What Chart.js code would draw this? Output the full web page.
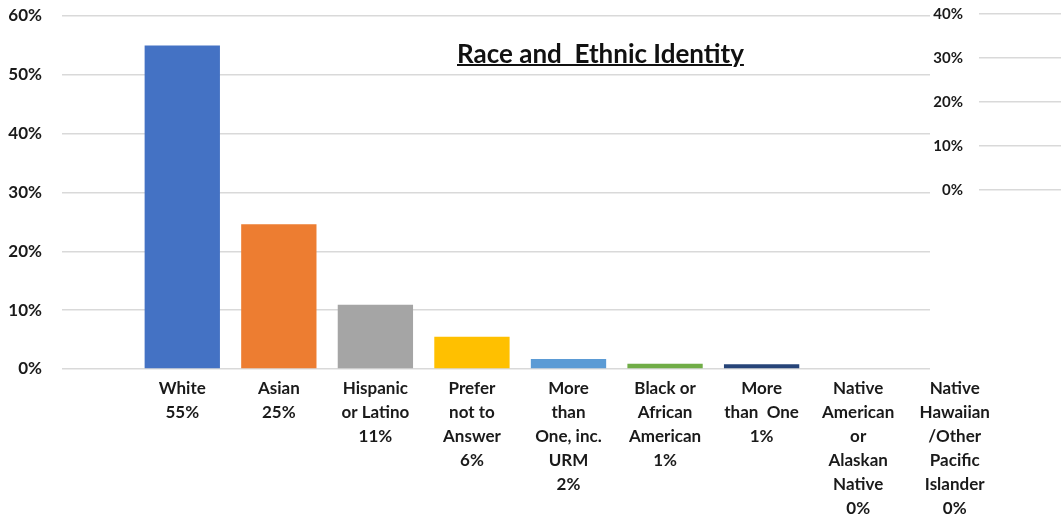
<!DOCTYPE html>
<html>
<head>
<meta charset="utf-8">
<script src="https://cdn.jsdelivr.net/npm/chart.js@4"></script>
<style>
  html, body { margin: 0; padding: 0; background: #fff; }
  #wrap { position: relative; width: 1061px; height: 517px; overflow: hidden; }
  #main { position: absolute; left: 0; top: 0; }
  #side { position: absolute; left: 930px; top: 0; background: #fff; }
  #title {
    position: absolute; left: 457px; top: 37px;
    font: bold 26px Lato, sans-serif; color: #111;
    text-decoration: underline; text-decoration-thickness: 2px;
    white-space: pre;
  }
</style>
</head>
<body>
<div id="wrap">
  <canvas id="main" width="1061" height="517"></canvas>
  <canvas id="side" width="131" height="372"></canvas>
  <div id="title">Race and  Ethnic Identity</div>
</div>
<script>
// share of respondents by race / ethnicity, in percent
const categories = [
  ['White'],
  ['Asian'],
  ['Hispanic', 'or Latino'],
  ['Prefer', 'not to', 'Answer'],
  ['More', 'than', 'One, inc.', 'URM'],
  ['Black or', 'African', 'American'],
  ['More', 'than  One'],
  ['Native', 'American', 'or', 'Alaskan', 'Native'],
  ['Native', 'Hawaiian', '/Other', 'Pacific', 'Islander']
]
const shares = [55, 24.6, 10.9, 5.5, 1.7, 0.9, 0.8, 0, 0]
const barColors = ['#4472c4', '#ed7d31', '#a5a5a5', '#ffc000', '#5b9bd5', '#70ad47', '#264478', '#9e480e', '#636363']
const leftAxisMax = 60
const sideAxisMax = 40
const axisStep = 10

const textColor = '#1a1a1a'
const gridColor = '#d9d9d9'

// category label + rounded share underneath
var xLabels = []
for (var i = 0; i < categories.length; i++) {
  xLabels.push(categories[i].concat(Math.round(shares[i]) + '%'))
}

new Chart(document.getElementById('main'), {
  type: 'bar',
  data: {
    labels: xLabels,
    datasets: [{
      data: shares,
      backgroundColor: barColors,
      borderWidth: 0,
      categoryPercentage: 1,
      barPercentage: 0.78
    }]
  },
  options: {
    responsive: false,
    animation: false,
    layout: { padding: { top: 16, right: 58, bottom: 0, left: 0 } },
    plugins: { legend: { display: false }, tooltip: { enabled: false } },
    scales: {
      x: {
        offset: true,
        grid: { display: false, drawTicks: false },
        border: { display: false },
        ticks: {
          autoSkip: false,
          maxRotation: 0,
          padding: 8,
          color: textColor,
          font: { family: 'Lato', size: 17, weight: 'bold', lineHeight: 1.41 }
        },
        afterFit: function (s) { s.height = 148 }
      },
      y: {
        min: 0,
        max: leftAxisMax,
        border: { display: false },
        grid: { color: gridColor, lineWidth: 1.5, tickLength: 72, tickColor: gridColor },
        ticks: {
          stepSize: axisStep,
          padding: 20,
          color: textColor,
          font: { family: 'Lato', size: 17, weight: 'bold' },
          callback: function (v) { return v + '%' }
        },
        // fixed width; the tick padding should not push the plot down
        afterFit: function (s) { s.width = 134; s.paddingTop = 0; s.paddingBottom = 0 }
      }
    }
  }
})

// small secondary scale at top right
new Chart(document.getElementById('side'), {
  type: 'bar',
  data: { labels: [''], datasets: [{ data: [] }] },
  options: {
    responsive: false,
    animation: false,
    layout: { padding: { top: 14, right: 0, bottom: 182, left: 0 } },
    plugins: { legend: { display: false }, tooltip: { enabled: false } },
    scales: {
      x: { display: false },
      y: {
        min: 0,
        max: sideAxisMax,
        border: { display: false },
        grid: { color: gridColor, lineWidth: 1.5, drawTicks: false },
        ticks: {
          stepSize: axisStep,
          padding: 16,
          color: textColor,
          font: { family: 'Lato', size: 15, weight: 'bold' },
          callback: function (v) { return v + '%' }
        },
        afterFit: function (s) { s.width = 49; s.paddingTop = 0; s.paddingBottom = 0 }
      }
    }
  }
})
</script>
</body>
</html>
